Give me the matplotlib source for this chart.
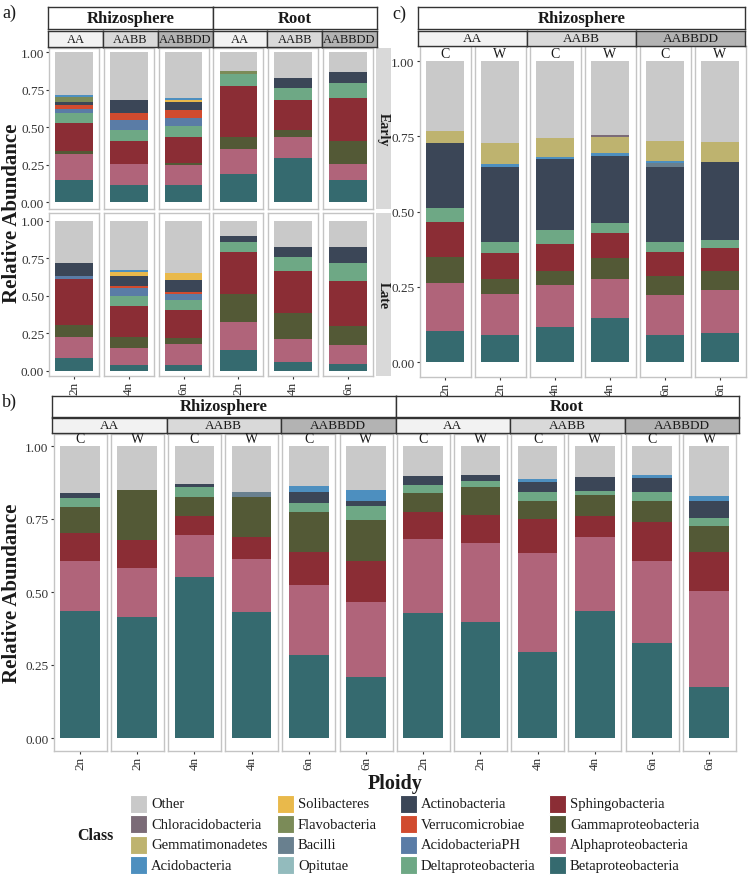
import matplotlib
matplotlib.use('Agg')
import matplotlib.pyplot as plt
from matplotlib.patches import Rectangle

plt.rcParams['font.family'] = ['Liberation Serif', 'DejaVu Serif']

W, H = 750, 879

# ---------------- classes / colours ----------------
LEGEND_CLASSES = ['Other', 'Chloracidobacteria', 'Gemmatimonadetes', 'Acidobacteria',
                  'Solibacteres', 'Flavobacteria', 'Bacilli', 'Opitutae',
                  'Actinobacteria', 'Verrucomicrobiae', 'AcidobacteriaPH', 'Deltaproteobacteria',
                  'Sphingobacteria', 'Gammaproteobacteria', 'Alphaproteobacteria', 'Betaproteobacteria']
COLORS = {
    'Other': '#c9c9c9', 'Chloracidobacteria': '#7b6b77', 'Gemmatimonadetes': '#beb36f',
    'Acidobacteria': '#4d8fbf', 'Solibacteres': '#e9b94b', 'Flavobacteria': '#7b8b58',
    'Bacilli': '#69808f', 'Opitutae': '#93bbbd', 'Actinobacteria': '#3b4657',
    'Verrucomicrobiae': '#d14b2f', 'AcidobacteriaPH': '#5a7ca6', 'Deltaproteobacteria': '#6ea885',
    'Sphingobacteria': '#8b2d35', 'Gammaproteobacteria': '#535936',
    'Alphaproteobacteria': '#b0647a', 'Betaproteobacteria': '#356a6f'}

STACK_AC = ['Betaproteobacteria', 'Alphaproteobacteria', 'Gammaproteobacteria', 'Sphingobacteria',
            'Deltaproteobacteria', 'AcidobacteriaPH', 'Verrucomicrobiae', 'Actinobacteria',
            'Opitutae', 'Bacilli', 'Flavobacteria', 'Solibacteres', 'Acidobacteria',
            'Gemmatimonadetes', 'Chloracidobacteria', 'Other']
STACK_B = ['Betaproteobacteria', 'Alphaproteobacteria', 'Sphingobacteria', 'Gammaproteobacteria',
           'Deltaproteobacteria', 'Actinobacteria', 'Bacilli', 'Acidobacteria', 'Other']

# ---------------- categories ----------------
compartments = ['Rhizosphere', 'Root']
genomes = ['AA', 'AABB', 'AABBDD']
genome_fill = {'AA': '#f2f2f2', 'AABB': '#d9d9d9', 'AABBDD': '#b3b3b3'}
stages = ['Early', 'Late']
a_ploidy = ['2n', '4n', '6n', '2n', '4n', '6n']
treatments = ['C', 'W']
c_ploidy = ['2n', '2n', '4n', '4n', '6n', '6n']
b_ploidy = ['2n', '2n', '4n', '4n', '6n', '6n', '2n', '2n', '4n', '4n', '6n', '6n']
y_ticks = [0.0, 0.25, 0.5, 0.75, 1.0]

# ---------------- panel a values (Rhizo AA, AABB, AABBDD, Root AA, AABB, AABBDD) -------------
A_EARLY = {
    'Betaproteobacteria':  [0.147, 0.113, 0.115, 0.187, 0.293, 0.149],
    'Alphaproteobacteria': [0.175, 0.140, 0.134, 0.171, 0.145, 0.109],
    'Gammaproteobacteria': [0.022, 0.005, 0.011, 0.080, 0.044, 0.151],
    'Sphingobacteria':     [0.185, 0.149, 0.177, 0.337, 0.200, 0.286],
    'Deltaproteobacteria': [0.066, 0.077, 0.070, 0.078, 0.083, 0.098],
    'AcidobacteriaPH':     [0.027, 0.065, 0.057, 0.0, 0.0, 0.0],
    'Verrucomicrobiae':    [0.027, 0.044, 0.053, 0.0, 0.0, 0.0],
    'Actinobacteria':      [0.018, 0.089, 0.050, 0.0, 0.066, 0.076],
    'Flavobacteria':       [0.033, 0.0, 0.0, 0.022, 0.0, 0.0],
    'Solibacteres':        [0.0, 0.0, 0.017, 0.0, 0.0, 0.0],
    'Acidobacteria':       [0.015, 0.0, 0.011, 0.0, 0.0, 0.0],
    'Other':               [0.285, 0.318, 0.305, 0.125, 0.169, 0.131],
}
A_LATE = {
    'Betaproteobacteria':  [0.082, 0.040, 0.038, 0.138, 0.060, 0.044],
    'Alphaproteobacteria': [0.145, 0.113, 0.140, 0.184, 0.153, 0.129],
    'Gammaproteobacteria': [0.078, 0.074, 0.040, 0.191, 0.169, 0.127],
    'Sphingobacteria':     [0.306, 0.206, 0.189, 0.280, 0.280, 0.300],
    'Deltaproteobacteria': [0.0, 0.067, 0.064, 0.067, 0.098, 0.118],
    'AcidobacteriaPH':     [0.018, 0.049, 0.040, 0.0, 0.0, 0.0],
    'Verrucomicrobiae':    [0.0, 0.018, 0.011, 0.0, 0.0, 0.0],
    'Actinobacteria':      [0.089, 0.066, 0.085, 0.040, 0.067, 0.109],
    'Solibacteres':        [0.0, 0.023, 0.044, 0.0, 0.0, 0.0],
    'Acidobacteria':       [0.0, 0.013, 0.0, 0.0, 0.0, 0.0],
    'Other':               [0.282, 0.331, 0.349, 0.100, 0.173, 0.173],
}
# ---------------- panel c values (AA C, AA W, AABB C, AABB W, AABBDD C, AABBDD W) -------------
C_RHIZO = {
    'Betaproteobacteria':  [0.105, 0.092, 0.118, 0.146, 0.092, 0.097],
    'Alphaproteobacteria': [0.157, 0.135, 0.140, 0.131, 0.132, 0.143],
    'Gammaproteobacteria': [0.089, 0.050, 0.046, 0.068, 0.064, 0.064],
    'Sphingobacteria':     [0.116, 0.086, 0.089, 0.083, 0.077, 0.075],
    'Deltaproteobacteria': [0.044, 0.035, 0.047, 0.033, 0.033, 0.028],
    'Actinobacteria':      [0.217, 0.251, 0.234, 0.225, 0.249, 0.259],
    'Bacilli':             [0.0, 0.0, 0.0, 0.0, 0.014, 0.0],
    'Acidobacteria':       [0.0, 0.009, 0.008, 0.008, 0.008, 0.0],
    'Gemmatimonadetes':    [0.041, 0.069, 0.063, 0.055, 0.065, 0.064],
    'Chloracidobacteria':  [0.0, 0.0, 0.0, 0.007, 0.0, 0.0],
    'Other':               [0.231, 0.273, 0.255, 0.244, 0.266, 0.270],
}
# ---------------- panel b values (Rhizo x6, Root x6) -------------
B_ALL = {
    'Betaproteobacteria':  [0.436, 0.415, 0.552, 0.433, 0.285, 0.210, 0.428, 0.396, 0.293, 0.436, 0.325, 0.175],
    'Alphaproteobacteria': [0.170, 0.166, 0.144, 0.180, 0.239, 0.257, 0.254, 0.272, 0.341, 0.251, 0.282, 0.330],
    'Sphingobacteria':     [0.096, 0.098, 0.065, 0.076, 0.112, 0.140, 0.091, 0.096, 0.116, 0.072, 0.132, 0.131],
    'Gammaproteobacteria': [0.088, 0.170, 0.065, 0.137, 0.137, 0.141, 0.066, 0.097, 0.063, 0.073, 0.073, 0.091],
    'Deltaproteobacteria': [0.031, 0.0, 0.032, 0.0, 0.032, 0.048, 0.027, 0.018, 0.028, 0.015, 0.032, 0.026],
    'Actinobacteria':      [0.017, 0.0, 0.012, 0.0, 0.036, 0.017, 0.030, 0.023, 0.037, 0.046, 0.046, 0.058],
    'Bacilli':             [0.0, 0.0, 0.0, 0.015, 0.0, 0.0, 0.0, 0.0, 0.0, 0.0, 0.0, 0.0],
    'Acidobacteria':       [0.0, 0.0, 0.0, 0.0, 0.021, 0.036, 0.0, 0.0, 0.009, 0.0, 0.012, 0.017],
    'Other':               [0.162, 0.151, 0.130, 0.159, 0.138, 0.151, 0.104, 0.098, 0.113, 0.107, 0.098, 0.172],
}

fig = plt.figure(figsize=(W / 100, H / 100), dpi=100)
fig.patch.set_facecolor('white')

TXT = '#1a1a1a'
TICK = '#333333'
BORDER = '#c4c4c4'


def rect(x0, y0, x1, y1):
    return [x0 / W, 1 - y1 / H, (x1 - x0) / W, (y1 - y0) / H]


def ftext(x, y, s, **kw):
    fig.text(x / W, 1 - y / H, s, **kw)


def strip(x0, y0, x1, y1, text, fc, bold=False, size=9.5, edge='#333333', rot=0):
    ax = fig.add_axes(rect(x0, y0, x1, y1))
    ax.set_xticks([]); ax.set_yticks([])
    ax.set_facecolor(fc)
    for s in ax.spines.values():
        if edge is None:
            s.set_visible(False)
        else:
            s.set_color(edge); s.set_linewidth(1.0)
    ax.text(0.5, 0.5, text, ha='center', va='center', transform=ax.transAxes,
            fontsize=size, fontweight='bold' if bold else 'normal', rotation=rot, color=TXT)
    return ax


def panel(x0, x1, top, bottom, v0, v1, data, order, j, ylab=False, xlab=None, sub=None, sub_y=None):
    ax = fig.add_axes(rect(x0, top, x1, bottom))
    ax.set_ylim((v0 - bottom) / (v0 - v1), (v0 - top) / (v0 - v1))
    ax.set_xlim(0.4, 1.6)
    for s in ax.spines.values():
        s.set_color(BORDER); s.set_linewidth(1.0)
    base = 0.0
    for cls in order:
        if cls in data:
            h = data[cls][j]
            if h > 0:
                ax.bar(1, h, bottom=base, width=0.9, color=COLORS[cls], linewidth=0)
                base += h
    if ylab:
        ax.set_yticks(y_ticks)
        ax.set_yticklabels(['%.2f' % t for t in y_ticks])
        ax.tick_params(axis='y', length=2.5, width=0.8, color=TICK, labelsize=9.5,
                       labelcolor=TICK, pad=1)
    else:
        ax.set_yticks([])
    if xlab is not None:
        ax.set_xticks([1])
        ax.set_xticklabels([xlab], rotation=90)
        ax.tick_params(axis='x', length=2.5, width=0.8, color=TICK, labelsize=9.5,
                       labelcolor=TICK, pad=1)
    else:
        ax.set_xticks([])
    if sub is not None:
        ftext((x0 + x1) / 2, sub_y, sub, ha='center', va='center', fontsize=10, color=TXT)
    return ax


# ======================= panel a =======================
a_left0, a_pitch, a_w = 49.0, 54.8, 50.0
rows_a = [(A_EARLY, 49, 210, 203.3, 53.3), (A_LATE, 214, 377, 371.7, 221.7)]
for r, (data, top, bot, v0, v1) in enumerate(rows_a):
    for j in range(6):
        x0 = a_left0 + j * a_pitch
        panel(x0, x0 + a_w, top, bot, v0, v1, data, STACK_AC, j,
              ylab=(j == 0), xlab=a_ploidy[j] if r == 1 else None)
    strip(376, top, 391, bot, stages[r], '#d9d9d9', bold=True, size=10, edge=None, rot=-90)

a_sx0, a_sx1 = 48.0, 377.0
a_sw = (a_sx1 - a_sx0) / 6
for k, comp in enumerate(compartments):
    strip(a_sx0 + 3 * k * a_sw, 8, a_sx0 + 3 * (k + 1) * a_sw, 30, comp, 'white', bold=True, size=12)
    for g, gen in enumerate(genomes):
        i = 3 * k + g
        strip(a_sx0 + i * a_sw, 32, a_sx0 + (i + 1) * a_sw, 48, gen, genome_fill[gen], size=9)

ftext(12, 213, 'Relative Abundance', rotation=90, ha='center', va='center',
      fontsize=15, fontweight='bold', color=TXT)
ftext(2, 13, 'a)', ha='left', va='center', fontsize=13, color=TXT)

# ======================= panel c =======================
c_left0, c_pitch, c_w = 419.5, 55.0, 51.0
for j in range(6):
    x0 = c_left0 + j * c_pitch
    panel(x0, x0 + c_w, 47, 378, 363.3, 62.0, C_RHIZO, STACK_AC, j,
          ylab=(j == 0), xlab=c_ploidy[j], sub=treatments[j % 2], sub_y=55)
strip(418, 8, 745, 30, 'Rhizosphere', 'white', bold=True, size=12)
c_sw = (745 - 418) / 3
for g, gen in enumerate(genomes):
    strip(418 + g * c_sw, 32, 418 + (g + 1) * c_sw, 47, gen, genome_fill[gen], size=9.5)
ftext(392, 14, 'c)', ha='left', va='center', fontsize=13, color=TXT)

# ======================= panel b =======================
b_left0, b_pitch, b_w = 53.5, 57.2, 53.0
for j in range(12):
    x0 = b_left0 + j * b_pitch
    panel(x0, x0 + b_w, 435, 752, 739.0, 447.0, B_ALL, STACK_B, j,
          ylab=(j == 0), xlab=b_ploidy[j], sub=treatments[j % 2], sub_y=440)
b_sx0, b_sx1 = 52.0, 739.0
b_sw = (b_sx1 - b_sx0) / 6
for k, comp in enumerate(compartments):
    strip(b_sx0 + 3 * k * b_sw, 397, b_sx0 + 3 * (k + 1) * b_sw, 418, comp, 'white', bold=True, size=12)
    for g, gen in enumerate(genomes):
        i = 3 * k + g
        strip(b_sx0 + i * b_sw, 419, b_sx0 + (i + 1) * b_sw, 434, gen, genome_fill[gen], size=9.5)
ftext(12, 593, 'Relative Abundance', rotation=90, ha='center', va='center',
      fontsize=15, fontweight='bold', color=TXT)
ftext(395, 784, 'Ploidy', ha='center', va='center', fontsize=14.5, fontweight='bold', color=TXT)
ftext(2, 402, 'b)', ha='left', va='center', fontsize=13, color=TXT)

# ======================= legend =======================
lax = fig.add_axes([0, 0, 1, 1])
lax.set_xlim(0, W); lax.set_ylim(H, 0)
lax.axis('off')
lax.patch.set_alpha(0)
key_x = [130, 277, 400, 549]
row_y = [805, 825.5, 846, 866.5]
for i, cls in enumerate(LEGEND_CLASSES):
    c, r = divmod(i, 4)
    lax.add_patch(Rectangle((key_x[c], row_y[r] - 9), 17, 18, facecolor=COLORS[cls],
                            edgecolor='white', linewidth=0.8))
    lax.text(key_x[c] + 21, row_y[r], cls, ha='left', va='center', fontsize=10.5, color=TXT)
lax.text(95, 836, 'Class', ha='center', va='center', fontsize=11.5, fontweight='bold', color=TXT)

fig.savefig('out.png', dpi=100)
